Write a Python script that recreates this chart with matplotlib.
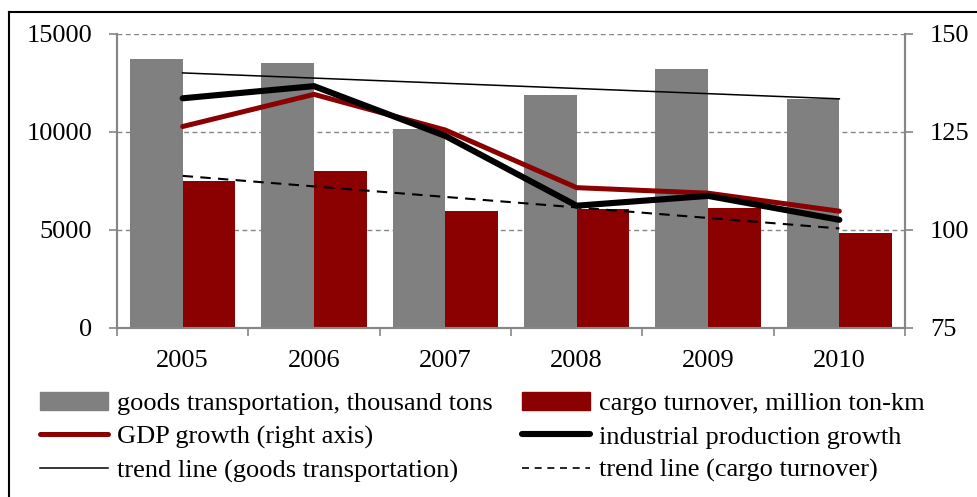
import numpy as np
import matplotlib
matplotlib.use("Agg")
import matplotlib.pyplot as plt
from matplotlib.lines import Line2D
from matplotlib.patches import Patch

years = ["2005", "2006", "2007", "2008", "2009", "2010"]
goods_transport = [13700, 13500, 10150, 11890, 13200, 11680]   # thousand tons
cargo_turnover = [7500, 8010, 5970, 6050, 6140, 4850]          # million ton-km
gdp_growth = [126.4, 134.6, 125.5, 110.8, 109.4, 104.8]        # right axis
industrial_growth = [133.6, 136.7, 124.0, 106.2, 108.7, 102.6]  # right axis

plt.rcParams["font.family"] = ["Liberation Serif", "DejaVu Serif"]
FS = 19
GREY = "#808080"
DARKRED = "#8B0000"
AXIS_GREY = "#868686"
LW_GDP = 3.6
LW_IND = 4.4

fig = plt.figure(figsize=(9.77, 4.97), dpi=100)
ax = fig.add_axes([117 / 977, 1 - 328 / 497, (905 - 117) / 977, (328 - 34) / 497])
ax2 = ax.twinx()

x = np.arange(len(years))
w = 0.4
ax.bar(x - w / 2, goods_transport, w, color=GREY, zorder=2)
ax.bar(x + w / 2, cargo_turnover, w, color=DARKRED, zorder=2)

# linear trend lines through the bar series
for series, style, lw in ((goods_transport, "-", 1.1), (cargo_turnover, (0, (5, 3.5)), 1.5)):
    k, b = np.polyfit(x, series, 1)
    ax.plot(x, k * x + b, color="black", lw=lw, linestyle=style, zorder=4)

ax2.plot(x, gdp_growth, color=DARKRED, lw=LW_GDP, solid_capstyle="round",
         solid_joinstyle="round", zorder=5)
ax2.plot(x, industrial_growth, color="black", lw=LW_IND, solid_capstyle="round",
         solid_joinstyle="round", zorder=5)

ax.set_xlim(-0.5, len(years) - 0.5)
ax.set_ylim(0, 15000)
ax2.set_ylim(75, 150)
ax.set_yticks([0, 5000, 10000, 15000])
ax2.set_yticks([75, 100, 125, 150])

ax.grid(axis="y", color=AXIS_GREY, linestyle=(0, (3.5, 2.5)), lw=1.0, zorder=0)
ax.set_axisbelow(True)

# category boundary ticks, labels at centres
ax.set_xticks(np.arange(-0.5, len(years)), labels=[""] * (len(years) + 1))
ax.set_xticks(x, labels=years, minor=True)
ax.tick_params(axis="x", which="major", direction="out", length=6, width=1.2, color=AXIS_GREY)
ax.tick_params(axis="x", which="minor", length=0, pad=16, labelsize=FS)
ax.tick_params(axis="y", direction="out", length=6, width=1.2, color=AXIS_GREY,
               pad=12, labelsize=FS)
ax2.tick_params(axis="y", direction="out", length=6, width=1.2, color=AXIS_GREY,
                pad=12, labelsize=FS)

for a in (ax, ax2):
    a.spines["top"].set_visible(False)
    for s in ("left", "right", "bottom"):
        a.spines[s].set_color(AXIS_GREY)
        a.spines[s].set_linewidth(1.5)
ax2.set_zorder(ax.get_zorder() + 1)
ax2.patch.set_visible(False)

handles = [
    Patch(color=GREY),
    Line2D([], [], color=DARKRED, lw=LW_GDP, solid_capstyle="round"),
    Line2D([], [], color="black", lw=1.1),
    Patch(color=DARKRED),
    Line2D([], [], color="black", lw=LW_IND, solid_capstyle="round"),
    Line2D([], [], color="black", lw=1.2, linestyle=(0, (4.2, 3.4))),
]
labels = [
    "goods transportation, thousand tons",
    "GDP growth (right axis)",
    "trend line (goods transportation)",
    "cargo turnover, million ton-km",
    "industrial production growth",
    "trend line (cargo turnover)",
]
fig.legend(handles, labels, ncol=2, loc="upper left", bbox_to_anchor=(40 / 977, 1 - 392 / 497),
           frameon=False, fontsize=FS, handlelength=2.58, handletextpad=0.34,
           columnspacing=1.1, labelspacing=0.37, borderaxespad=0, borderpad=0)

# outer frame
fig.add_artist(Line2D([9 / 977, 9 / 977], [0, 1 - 12 / 497], color="black", lw=1.5,
                      transform=fig.transFigure))
fig.add_artist(Line2D([9 / 977, 1], [1 - 12 / 497, 1 - 12 / 497], color="black", lw=1.5,
                      transform=fig.transFigure))

fig.savefig("out.png", dpi=100)
